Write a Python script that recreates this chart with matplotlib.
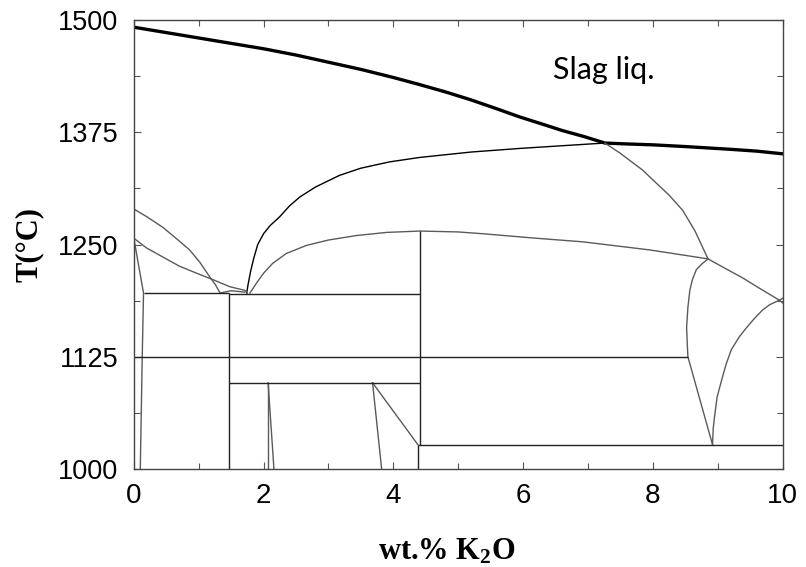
import numpy as np
import matplotlib.pyplot as plt
from matplotlib.ticker import MultipleLocator

plt.rcParams['mathtext.fontset'] = 'custom'
plt.rcParams['mathtext.bf'] = 'Liberation Serif:bold'
plt.rcParams['mathtext.rm'] = 'Liberation Serif:bold'
plt.rcParams['mathtext.default'] = 'bf'

# slag liquidus (thick)
liq_x = [0, 0.5, 1, 1.5, 2, 2.5, 3, 3.5, 4, 4.41, 4.8, 5.2, 5.6, 5.95, 6.3, 6.6, 6.95, 7.26,
         7.6, 8.0, 8.52, 9.2, 9.6, 10]
liq_t = [1492, 1486, 1480, 1474, 1468, 1461, 1453, 1445, 1436, 1428, 1420, 1411, 1401, 1392,
         1384, 1377, 1370, 1363, 1362, 1361, 1359, 1356, 1354, 1351]

# thin black liquidus branch
liq2_x = [1.74, 1.76, 1.80, 1.85, 1.91, 2.0, 2.1, 2.25, 2.4, 2.56, 2.8, 3.17, 3.5, 3.94, 4.41,
          5.2, 5.95, 6.6, 7.26]
liq2_t = [1196, 1205, 1220, 1235, 1250, 1262, 1271, 1281, 1293, 1303, 1314, 1327, 1335, 1342,
          1347, 1353, 1357, 1360, 1363]

# grey dome
dome_x = [1.79, 1.9, 2.0, 2.14, 2.35, 2.66, 3.0, 3.43, 3.9, 4.41, 5.0, 5.38, 6.2, 6.92, 7.95, 8.85]
dome_t = [1196, 1208, 1218, 1229, 1240, 1249, 1255, 1260, 1263.5, 1265, 1264, 1262, 1257, 1253,
          1244, 1234]

drop_x = [7.26, 7.49, 7.84, 8.0, 8.25, 8.46, 8.65, 8.85]
drop_t = [1363, 1352, 1333, 1322, 1305, 1288, 1265, 1234]

right_x = [8.85, 9.1, 9.38, 9.65, 9.95, 10.0]
right_t = [1234, 1224, 1213, 1201, 1188, 1185]

lensL_x = [8.85, 8.75, 8.67, 8.61, 8.57, 8.54, 8.52, 8.53, 8.54, 8.92]
lensL_t = [1234, 1228, 1222, 1211, 1199, 1180, 1158, 1140, 1125, 1027]

lensR_x = [8.92, 8.93, 8.95, 8.99, 9.06, 9.13, 9.21, 9.33, 9.45, 9.57, 9.69, 9.8, 9.92, 10.0]
lensR_t = [1027, 1045, 1058, 1080, 1099, 1117, 1133, 1147, 1158, 1168, 1177, 1183, 1187, 1190]

# left side curves
curveA_x = [0, 0.2, 0.45, 0.65, 0.86, 1.02, 1.17, 1.26, 1.33]
curveA_t = [1289.5, 1281, 1269, 1257, 1244, 1230, 1214, 1205, 1196]
curveB_x = [0, 0.2, 0.45, 0.7, 0.97, 1.25, 1.48, 1.71, 1.75]
curveB_t = [1257, 1246, 1236, 1226, 1218, 1210, 1203, 1199, 1196]
curveC_x = [0, 0.15, 0.13, 0.10]
curveC_t = [1257, 1196, 1125, 1000]
arc_x = [1.33, 1.5, 1.71]
arc_t = [1196, 1198.5, 1197]

# short lines below 1096
s1_x = [2.07, 2.07]; s1_t = [1096, 1000]
s2_x = [2.07, 2.16]; s2_t = [1096, 1000]
s3_x = [3.68, 3.82]; s3_t = [1096, 1000]
s4_x = [3.68, 4.38]; s4_t = [1096, 1027]

# horizontal isotherms
hlines_t = [1125, 1027, 1196.5, 1195, 1096]
hlines_x0 = [0, 4.38, 0.15, 1.46, 1.46]
hlines_x1 = [8.54, 10, 1.46, 4.41, 4.41]

# vertical lines
vlines_x = [1.46, 4.41, 4.38]
vlines_lo = [1000, 1027, 1000]
vlines_hi = [1196.5, 1265, 1027]

grey = '#5a5a5a'

fig = plt.figure(figsize=(8.06, 5.67), dpi=100)
ax = fig.add_axes([0.166, 0.1728, 0.805, 0.7919])

ax.plot(liq_x, liq_t, color='black', lw=2.4)
ax.plot(liq2_x, liq2_t, color='black', lw=1.0)
for xs, ts in [(dome_x, dome_t), (drop_x, drop_t), (right_x, right_t),
               (lensL_x, lensL_t), (lensR_x, lensR_t), (curveA_x, curveA_t),
               (curveB_x, curveB_t), (curveC_x, curveC_t), (arc_x, arc_t),
               (s1_x, s1_t), (s2_x, s2_t), (s3_x, s3_t), (s4_x, s4_t)]:
    ax.plot(xs, ts, color=grey, lw=1.0)

ax.hlines(hlines_t, hlines_x0, hlines_x1, color='#222222', lw=1.0)
ax.vlines(vlines_x, vlines_lo, vlines_hi, color='#222222', lw=1.0)

ax.text(6.46, 1434, 'Slag liq.', fontsize=22, family='Lato')

ax.set_xlim(0, 10)
ax.set_ylim(1000, 1500)
ax.set_xticks([0, 2, 4, 6, 8, 10])
ax.set_yticks([1000, 1125, 1250, 1375, 1500])
ax.xaxis.set_minor_locator(MultipleLocator(1))
ax.yaxis.set_minor_locator(MultipleLocator(62.5))
ax.tick_params(which='both', direction='in', top=True, right=True, color='#555555')
ax.tick_params(which='major', length=5, width=0.8)
ax.tick_params(which='minor', length=4, width=0.8)
ax.tick_params(axis='y', pad=11, labelsize=19.5)
ax.tick_params(axis='x', pad=10, labelsize=20)
for lab in ax.get_yticklabels() + ax.get_xticklabels():
    lab.set_family('Liberation Sans')
for sp in ax.spines.values():
    sp.set_color('#444444')
    sp.set_linewidth(1.0)

ax.set_xlabel(r'wt.% K$_2$O', fontsize=22, family='Liberation Serif', fontweight='bold')
ax.set_ylabel('T(°C)', fontsize=22, family='Liberation Serif', fontweight='bold')
ax.xaxis.set_label_coords(0.482, -0.151)
ax.yaxis.set_label_coords(-0.139, 0.5)

fig.savefig('out.png', dpi=100)
